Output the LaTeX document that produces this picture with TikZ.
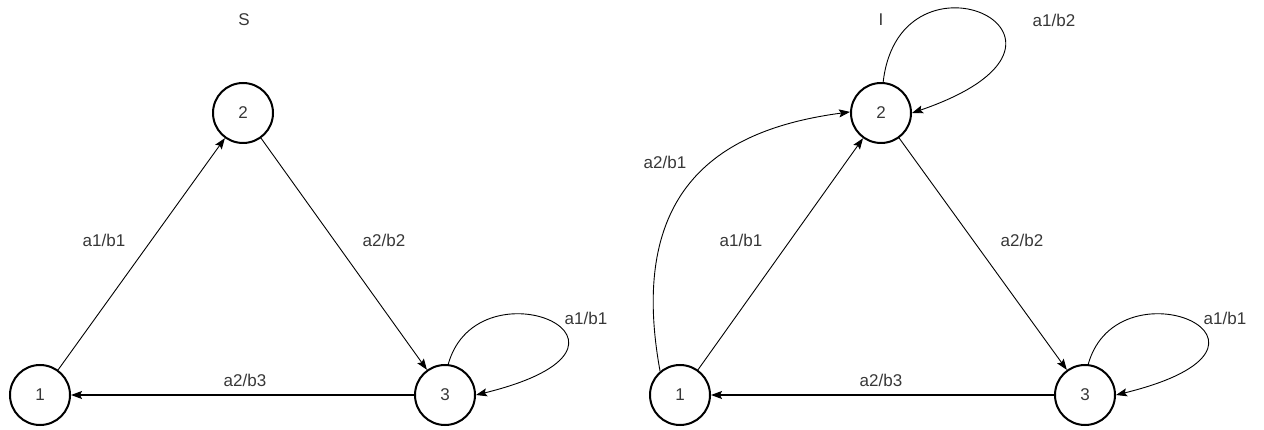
\documentclass[tikz,border=0pt]{standalone}
\usepackage{fontspec}
\setmainfont{Liberation Sans}
\usetikzlibrary{arrows.meta}
\definecolor{txt}{RGB}{55,55,55}
\begin{document}
\begin{tikzpicture}[x=1pt,y=-1pt,
  state/.style={circle,draw,line width=2pt,minimum size=60pt,inner sep=0pt,font=\fontsize{17}{20}\selectfont,text=txt},
  edge/.style={-{Stealth[length=11pt,width=8pt,inset=2pt]},line width=0.9pt},
  lbl/.style={font=\fontsize{17}{20}\selectfont,text=txt}]
\useasboundingbox (0,0) rectangle (1264,430);
% ---- left: S
\node[lbl] (tS) at (244,20) {S};
\node[state] (a1) at (40,395) {1};
\node[state] (a2) at (243,113) {2};
\node[state] (a3) at (445,395) {3};
\draw[edge] (a1) -- (a2);
\draw[edge] (a2) -- (a3);
\draw[edge,line width=1.2pt] (a3) -- (a1);
\draw[edge] (a3.84) .. controls (478,258) and (680,345) .. (a3.0);
\node[lbl] (la12) at (104,240) {a1/b1};
\node[lbl] (la23) at (384,240) {a2/b2};
\node[lbl] (la31) at (245,380) {a2/b3};
\node[lbl] (la33) at (586,318) {a1/b1};
% ---- right: I
\node[lbl] (tI) at (881,20) {I};
\node[state] (b1) at (680,395) {1};
\node[state] (b2) at (881,113) {2};
\node[state] (b3) at (1085,395) {3};
\draw[edge] (b1) -- (b2);
\draw[edge] (b2) -- (b3);
\draw[edge,line width=1.2pt] (b3) -- (b1);
\draw[edge] (b3.84) .. controls (1118,258) and (1320,345) .. (b3.0);
\draw[edge] (b2.86) .. controls (900,-65) and (1125,40) .. (b2.0);
\draw[edge] (b1.130) .. controls (625,180) and (730,128) .. (b2.178);
\node[lbl] (lb21) at (665,162) {a2/b1};
\node[lbl] (lb12) at (741,240) {a1/b1};
\node[lbl] (lb23) at (1022,240) {a2/b2};
\node[lbl] (lb31) at (881,380) {a2/b3};
\node[lbl] (lb33) at (1225,318) {a1/b1};
\node[lbl] (lb22) at (1054,20) {a1/b2};
\end{tikzpicture}
\end{document}
